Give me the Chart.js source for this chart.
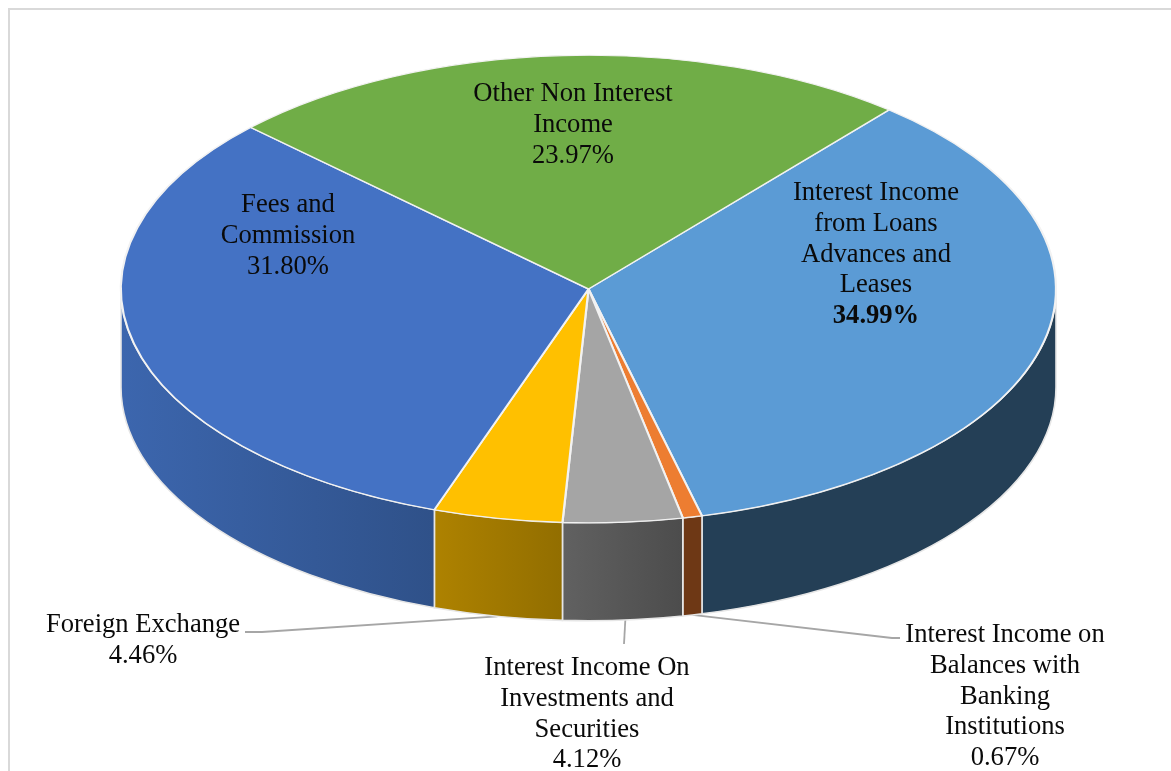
<!DOCTYPE html>
<html>
<head>
<meta charset="utf-8">
<title>Income composition</title>
<script src="https://cdn.jsdelivr.net/npm/chart.js@4/dist/chart.umd.min.js"></script>
<style>
    html, body { margin: 0; padding: 0; background: #fff; overflow: hidden; }
    canvas { display: block; }
</style>
</head>
<body>
<canvas id="income" width="1171" height="771"></canvas>
<script>
const categories = [
    ['Interest Income', 'from Loans', 'Advances and', 'Leases'],
    ['Interest Income on', 'Balances with', 'Banking', 'Institutions'],
    ['Interest Income On', 'Investments and', 'Securities'],
    ['Foreign Exchange'],
    ['Fees and', 'Commission'],
    ['Other Non Interest', 'Income'],
];
const shares = [34.99, 0.67, 4.12, 4.46, 31.80, 23.97];

const topColors = ['#5b9bd5', '#ed7d31', '#a5a5a5', '#ffc000', '#4472c4', '#70ad47'];
const wallColors = [
    ['#243f56', '#243f56'],
    ['#6e3815', '#6e3815'],
    ['#616161', '#4c4c4c'],
    ['#ae8200', '#926e00'],
    ['#3c66ae', '#2f5189'],
    ['#43682a', '#43682a'],
];

// centre x and first line y of each label block
const labelX = [876, 1005, 587, 143, 288, 573];
const labelY = [193.5, 635.5, 668.5, 625.5, 205.5, 94.5];
const LINE_HEIGHT = 30.6;
const LABEL_FONT = "26.6px 'Liberation Serif'";

// outer ends of the leader lines, null for labels sitting on the slice
const leaderEnds = [
    null,
    [[892, 638], [900, 638]],
    [[624, 644]],
    [[262, 632], [245, 632]],
    null,
    null,
];
// how far along its slice each leader leaves the wall
const leaderAnchor = [0.5, 0.5, 0.48, 0.5, 0.5, 0.5];

const RADIUS = 467.5;
const SQUASH = 0.5;
const DEPTH = 98;

function drawWalls(ctx, arcs) {
    arcs.forEach((arc, i) => {
        const { x, y, startAngle, endAngle } = arc;
        const lo = Math.max(startAngle, 0);
        const hi = Math.min(endAngle, Math.PI);
        if (hi <= lo) return;

        const shade = ctx.createLinearGradient(x + RADIUS * Math.cos(hi), 0, x + RADIUS * Math.cos(lo), 0);
        shade.addColorStop(0, wallColors[i][0]);
        shade.addColorStop(1, wallColors[i][1]);

        ctx.beginPath();
        ctx.ellipse(x, y, RADIUS, RADIUS * SQUASH, 0, lo, hi);
        ctx.ellipse(x, y + DEPTH, RADIUS, RADIUS * SQUASH, 0, hi, lo, true);
        ctx.closePath();
        ctx.fillStyle = shade;
        ctx.fill();
        ctx.strokeStyle = '#e6e6e6';
        ctx.lineWidth = 1.6;
        ctx.stroke();
    });
}

function drawLeaders(ctx, arcs) {
    ctx.strokeStyle = '#a6a6a6';
    ctx.lineWidth = 1.8;
    arcs.forEach((arc, i) => {
        if (!leaderEnds[i]) return;
        const a = arc.startAngle + (arc.endAngle - arc.startAngle) * leaderAnchor[i];
        ctx.beginPath();
        ctx.moveTo(arc.x + RADIUS * Math.cos(a), arc.y + DEPTH + RADIUS * SQUASH * Math.sin(a));
        leaderEnds[i].forEach(p => ctx.lineTo(p[0], p[1]));
        ctx.stroke();
    });
}

function drawLabels(ctx) {
    ctx.textAlign = 'center';
    ctx.textBaseline = 'middle';
    ctx.fillStyle = '#0a0a0a';
    categories.forEach((lines, i) => {
        ctx.font = LABEL_FONT;
        lines.forEach((line, n) => ctx.fillText(line, labelX[i], labelY[i] + n * LINE_HEIGHT));
        // the largest share is set in bold
        if (shares[i] === Math.max(...shares)) ctx.font = 'bold ' + LABEL_FONT;
        ctx.fillText(shares[i].toFixed(2) + '%', labelX[i], labelY[i] + lines.length * LINE_HEIGHT);
    });
}

// Flattens the pie into a tilted disc and adds its side wall, leaders and labels
const tiltedDisc = {
    id: 'tiltedDisc',
    beforeDraw(chart) {
        const ctx = chart.ctx;
        ctx.save();
        ctx.strokeStyle = '#d9d9d9';
        ctx.lineWidth = 2;
        ctx.strokeRect(9, 9, 1300, 900);
        ctx.restore();
    },
    beforeDatasetsDraw(chart) {
        const ctx = chart.ctx;
        const arcs = chart.getDatasetMeta(0).data;
        ctx.save();
        drawLeaders(ctx, arcs);
        drawWalls(ctx, arcs);
        ctx.translate(0, arcs[0].y);
        ctx.scale(1, SQUASH);
        ctx.translate(0, -arcs[0].y);
    },
    afterDatasetsDraw(chart) {
        const ctx = chart.ctx;
        ctx.restore();
        ctx.save();
        drawLabels(ctx);
        ctx.restore();
    },
};

new Chart(document.getElementById('income'), {
    type: 'pie',
    data: {
        labels: categories,
        datasets: [{
            data: shares,
            backgroundColor: topColors,
            borderColor: '#f2f2f2',
            borderWidth: 2.2,
            clip: false,
        }],
    },
    options: {
        responsive: false,
        animation: false,
        events: [],
        rotation: 40,
        radius: RADIUS,
        layout: { padding: { left: 6, bottom: 193 } },
        plugins: {
            legend: { display: false },
            tooltip: { enabled: false },
        },
    },
    plugins: [tiltedDisc],
});
</script>
</body>
</html>
